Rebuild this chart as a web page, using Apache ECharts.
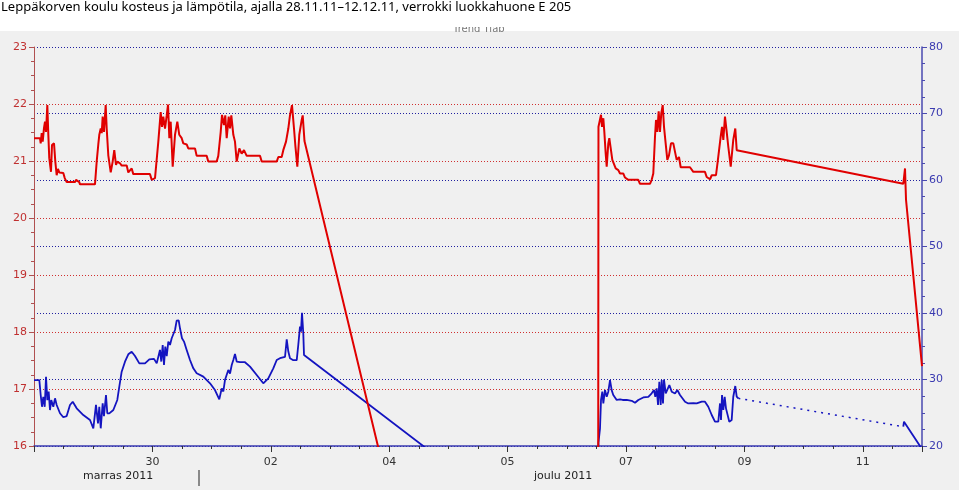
<!DOCTYPE html>
<html>
<head>
<meta charset="utf-8">
<script src="https://cdn.jsdelivr.net/npm/echarts@6/dist/echarts.min.js"></script>
<style>html,body{margin:0;padding:0;background:#fff}#c{width:959px;height:495px}</style>
</head>
<body>
<div id="c"></div>
<script>
// x = days since 28.11.2011 00:00
var xTickLabels = ['', '30', '02', '04', '05', '07', '09', '11'];
var monthLabels = ['marras 2011', 'joulu 2011'];

// Temperature (°C, left axis)
var tempPart1 = [
[0,21.4],[0.101,21.4],[0.113,21.31],[0.130,21.49],[0.147,21.34],[0.169,21.58],[0.186,21.69],[0.203,21.51],[0.225,21.98],[0.242,21.46],
[0.258,21.05],[0.287,20.81],[0.304,21.28],[0.338,21.31],[0.360,20.99],[0.383,20.75],[0.405,20.86],[0.427,20.80],[0.495,20.79],[0.519,20.70],
[0.552,20.63],[0.693,20.63],[0.709,20.67],[0.765,20.63],[0.777,20.59],[1.030,20.59],[1.059,20.99],[1.086,21.29],[1.103,21.46],[1.127,21.57],
[1.144,21.49],[1.160,21.78],[1.182,21.51],[1.211,21.98],[1.228,21.57],[1.255,21.10],[1.296,20.80],[1.329,20.99],[1.356,21.19],[1.385,20.93],
[1.407,20.99],[1.453,20.96],[1.481,20.92],[1.566,20.92],[1.593,20.80],[1.650,20.87],[1.677,20.77],[1.959,20.77],[1.988,20.67],[2.044,20.70],
[2.100,21.34],[2.140,21.86],[2.162,21.60],[2.184,21.78],[2.213,21.57],[2.242,21.80],[2.264,21.99],[2.286,21.40],[2.309,21.69],[2.343,20.90],
[2.382,21.46],[2.421,21.69],[2.454,21.46],[2.495,21.40],[2.522,21.31],[2.579,21.29],[2.606,21.22],[2.720,21.22],[2.748,21.09],[2.917,21.09],
[2.944,20.99],[3.086,20.99],[3.113,21.09],[3.154,21.51],[3.176,21.81],[3.209,21.63],[3.231,21.80],[3.255,21.40],[3.289,21.78],[3.311,21.57],
[3.333,21.80],[3.367,21.46],[3.395,21.34],[3.424,20.99],[3.468,21.22],[3.508,21.13],[3.547,21.19],[3.593,21.09],[3.818,21.09],[3.846,20.99],
[4.100,20.99],[4.127,21.07],[4.184,21.07],[4.211,21.19],[4.257,21.34],[4.296,21.57],[4.324,21.80],[4.358,21.98],[4.392,21.57],[4.414,21.28],
[4.448,20.90],[4.481,21.46],[4.522,21.72],[4.539,21.80],[4.569,21.35]
];
var tempDropout = [[9.519,0]];
var tempPart2 = [
[9.535,21.6],[9.561,21.6],[9.578,21.81],[9.595,21.6],[9.617,21.75],[9.634,21.51],[9.657,21.13],[9.674,20.90],[9.701,21.31],[9.718,21.40],
[9.747,21.37],[9.769,21.02],[9.797,20.99],[9.826,20.87],[9.870,20.84],[9.899,20.78],[9.955,20.78],[9.983,20.71],[10.012,20.71],[10.039,20.67],
[10.208,20.67],[10.236,20.60],[10.405,20.60],[10.434,20.67],[10.461,20.78],[10.490,21.43],[10.507,21.72],[10.529,21.51],[10.552,21.87],[10.574,21.51],
[10.596,21.84],[10.620,21.98],[10.642,21.60],[10.664,21.37],[10.698,21.02],[10.726,21.10],[10.760,21.31],[10.799,21.31],[10.828,21.16],[10.856,21.02],
[10.895,21.07],[10.924,20.89],[11.081,20.89],[11.137,20.81],[11.334,20.81],[11.363,20.72],[11.419,20.68],[11.448,20.75],[11.520,20.75],[11.549,20.99],
[11.600,21.43],[11.622,21.60],[11.644,21.37],[11.672,21.78],[11.701,21.51],[11.728,21.25],[11.769,20.90],[11.812,21.37],[11.846,21.57],[11.870,21.19],
[14.684,20.60],[14.713,20.87],[14.730,20.32],[15.0,17.4]
];

// Relative humidity (%, right axis)
var humPart1 = [
[0,29.92],[0.090,29.92],[0.113,27.67],[0.135,25.9],[0.157,27.4],[0.181,25.9],[0.203,30.4],[0.225,26.9],[0.248,28.17],[0.270,25.41],
[0.292,26.9],[0.326,25.9],[0.355,27.17],[0.383,26.17],[0.439,24.92],[0.495,24.32],[0.552,24.5],[0.608,26.17],[0.654,26.66],[0.721,25.67],
[0.833,24.66],[0.946,23.91],[1.002,22.66],[1.047,26.17],[1.081,23.41],[1.103,25.9],[1.127,22.66],[1.160,26.42],[1.182,24.5],[1.216,27.67],
[1.238,24.92],[1.272,24.9],[1.340,25.41],[1.407,26.92],[1.441,28.92],[1.481,31.17],[1.537,32.68],[1.593,33.79],[1.650,34.18],[1.706,33.53],
[1.779,32.43],[1.875,32.43],[1.948,33.03],[2.027,33.1],[2.073,32.43],[2.100,32.2],[2.128,34.44],[2.150,32.7],[2.174,35.19],[2.196,32.2],
[2.218,34.94],[2.242,33.5],[2.269,35.69],[2.297,35.2],[2.326,36.2],[2.353,36.1],[2.382,37.44],[2.410,38.84],[2.444,38.9],[2.466,37.7],
[2.500,36.2],[2.534,35.7],[2.579,34.44],[2.635,32.93],[2.691,31.68],[2.748,30.93],[2.860,30.43],[2.973,29.43],[3.057,28.42],[3.130,27.02],
[3.171,28.67],[3.198,28.2],[3.226,29.92],[3.255,29.67],[3.282,31.43],[3.311,30.9],[3.340,32.18],[3.367,32.93],[3.395,33.83],[3.424,32.7],
[3.480,32.6],[3.564,32.6],[3.649,31.93],[3.762,30.68],[3.873,29.43],[3.958,30.18],[4.042,31.68],[4.100,32.93],[4.155,33.2],[4.240,33.4],
[4.269,36.05],[4.296,34.2],[4.324,33.2],[4.380,32.9],[4.438,32.9],[4.464,35.19],[4.493,37.95],[4.510,37.2],[4.527,40.04],[4.549,36.9],
[4.561,33.68]
];
var humDropout = [[9.519,0]];
var humPart2 = [
[9.535,20.5],[9.561,22.66],[9.578,26.92],[9.600,28.17],[9.617,26.4],[9.645,28.42],[9.674,27.4],[9.701,28.17],[9.730,29.92],[9.758,28.4],
[9.785,27.67],[9.843,26.92],[9.899,27.0],[9.916,26.7],[9.944,26.92],[10.012,26.92],[10.096,26.8],[10.152,26.5],[10.208,26.92],[10.292,27.3],
[10.377,27.4],[10.434,27.92],[10.473,28.42],[10.495,27.4],[10.519,28.67],[10.541,26.17],[10.563,29.67],[10.586,26.17],[10.603,29.92],[10.625,26.4],
[10.642,30.0],[10.671,27.92],[10.698,27.9],[10.732,29.17],[10.772,28.17],[10.828,27.9],[10.867,28.42],[10.912,27.67],[10.997,26.66],[11.052,26.4],
[11.137,26.45],[11.194,26.4],[11.279,26.66],[11.334,26.66],[11.390,25.9],[11.448,24.66],[11.503,23.66],[11.559,23.66],[11.588,26.4],[11.605,23.9],
[11.622,27.67],[11.644,25.41],[11.667,27.4],[11.689,25.66],[11.711,25.5],[11.745,23.66],[11.785,23.9],[11.812,27.4],[11.846,29.02],[11.870,27.42],
[11.897,27.17]
];
var humGap = [[11.897,27.17],[14.684,22.9]];
var humPart3 = [[14.684,22.9],[14.696,23.66],[14.966,20.0],[15.0,19.6]];

var RED = '#e00000', BLUE = '#1414c0';
var chart = echarts.init(document.getElementById('c'), null, {renderer: 'canvas'});
chart.setOption({
  animation: false,
  backgroundColor: '#f0f0f0',
  title: {
    text: 'Leppäkorven koulu kosteus ja lämpötila, ajalla 28.11.11–12.12.11, verrokki luokkahuone E 205',
    left: 0, top: 0, padding: [1, 0, 0, 1],
    textStyle: {fontFamily: 'Noto Sans', fontSize: 13, fontWeight: 'normal', color: '#000'}
  },
  graphic: [
    {type: 'rect', z: -1, shape: {x: 0, y: 0, width: 959, height: 31}, style: {fill: '#ffffff'}, silent: true},
    {type: 'text', left: 453, top: 24, style: {text: 'Trend Tiab', fill: '#777', font: '10px "DejaVu Sans"'}},
    {type: 'rect', z: 5, shape: {x: 440, y: 0, width: 90, height: 27}, style: {fill: '#ffffff'}, silent: true},
    {type: 'rect', z: 5, shape: {x: 0, y: 490, width: 959, height: 5}, style: {fill: '#ffffff'}, silent: true},
    {type: 'text', left: 83, top: 471, style: {text: monthLabels[0], fill: '#222', font: '11px "DejaVu Sans"'}},
    {type: 'text', left: 534, top: 471, style: {text: monthLabels[1], fill: '#222', font: '11px "DejaVu Sans"'}},
    {type: 'line', shape: {x1: 199, y1: 470, x2: 199, y2: 486}, style: {stroke: '#222', lineWidth: 1}}
  ],
  grid: {left: 34, right: 37, top: 47, bottom: 49},
  xAxis: {
    type: 'value', min: 0, max: 15, interval: 2,
    axisLine: {show: true, onZero: false, lineStyle: {color: '#3a3ab0', width: 1.5}},
    axisTick: {show: true, length: 6, lineStyle: {color: '#333'}},
    minorTick: {show: true, splitNumber: 4, length: 3, lineStyle: {color: '#333'}},
    splitLine: {show: false},
    axisLabel: {
      margin: 11, color: '#333', fontFamily: 'DejaVu Sans', fontSize: 11,
      formatter: function (v) { return xTickLabels[Math.round(v / 2)] || ''; }
    }
  },
  yAxis: [
    {
      type: 'value', min: 16, max: 23, interval: 1, position: 'left',
      axisLine: {show: true, lineStyle: {color: '#b05050', width: 1}},
      axisTick: {show: true, length: 5, lineStyle: {color: '#b05050'}},
      minorTick: {show: true, splitNumber: 4, length: 3, lineStyle: {color: '#b05050'}},
      splitLine: {show: true, lineStyle: {color: '#d03030', type: [1, 2], width: 1}},
      axisLabel: {margin: 7, color: '#c03030', fontFamily: 'DejaVu Sans', fontSize: 11}
    },
    {
      type: 'value', min: 20, max: 80, interval: 10, position: 'right',
      axisLine: {show: true, lineStyle: {color: '#4a4ab0', width: 1.5}},
      axisTick: {show: true, length: 5, lineStyle: {color: '#4a4ab0'}},
      minorTick: {show: true, splitNumber: 4, length: 3, lineStyle: {color: '#4a4ab0'}},
      splitLine: {show: true, lineStyle: {color: '#2020a0', type: [1, 2], width: 1}},
      axisLabel: {margin: 7, color: '#3a3ab0', fontFamily: 'DejaVu Sans', fontSize: 11}
    }
  ],
  series: [
    {type: 'line', yAxisIndex: 1, showSymbol: false, symbol: 'none', lineStyle: {color: BLUE, width: 1.8},
     data: humPart1.concat(humDropout, humPart2)},
    {type: 'line', yAxisIndex: 1, showSymbol: false, symbol: 'none', lineStyle: {color: BLUE, width: 1.5, type: [2, 5]},
     data: humGap},
    {type: 'line', yAxisIndex: 1, showSymbol: false, symbol: 'none', lineStyle: {color: BLUE, width: 1.8},
     data: humPart3},
    {type: 'line', yAxisIndex: 0, showSymbol: false, symbol: 'none', lineStyle: {color: RED, width: 2},
     data: tempPart1.concat(tempDropout, tempPart2)}
  ]
});
</script>
</body>
</html>
